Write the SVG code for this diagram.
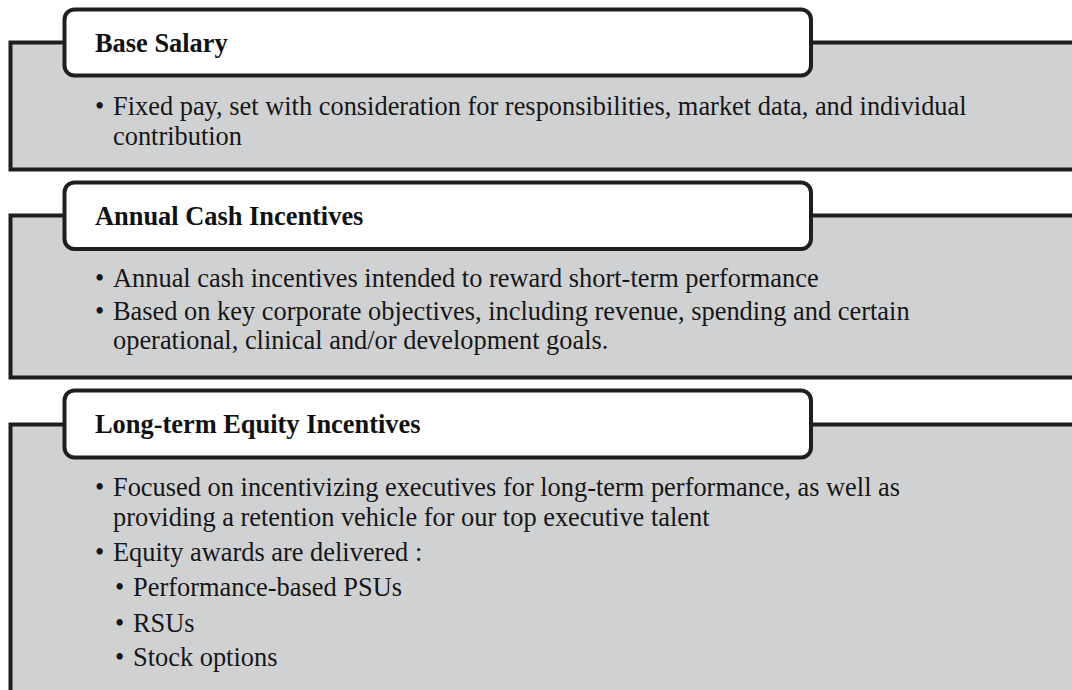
<svg xmlns="http://www.w3.org/2000/svg" width="1072" height="690" viewBox="0 0 1072 690">
  <style>
    .panel { fill: #d0d1d3; stroke: #1e1e1e; stroke-width: 4; }
    .tab { fill: #ffffff; stroke: #1e1e1e; stroke-width: 4; }
    .title { font-family: "Liberation Serif", "Times New Roman", serif; font-weight: bold; font-size: 26.4px; fill: #111111; }
    .body { font-family: "Liberation Serif", "Times New Roman", serif; font-size: 26.4px; fill: #161616; }
  </style>
  <rect x="0" y="0" width="1072" height="690" fill="#ffffff"/>

  <!-- Base salary -->
  <g id="base-salary">
    <rect class="panel" x="10.5" y="42.5" width="1080" height="127"/>
    <rect class="tab" x="64.5" y="9.5" width="746.5" height="66" rx="10" ry="10"/>
    <text class="title" x="95" y="52">Base Salary</text>
    <text class="body" x="95" y="115">•</text>
    <text class="body" x="113" y="115">Fixed pay, set with consideration for responsibilities, market data, and individual</text>
    <text class="body" x="113" y="145">contribution</text>
  </g>

  <!-- Annual cash incentives -->
  <g id="annual-cash-incentives">
    <rect class="panel" x="10.5" y="215.5" width="1080" height="162"/>
    <rect class="tab" x="64.5" y="182.5" width="746.5" height="66.5" rx="10" ry="10"/>
    <text class="title" x="95" y="225">Annual Cash Incentives</text>
    <text class="body" x="95" y="287">•</text>
    <text class="body" x="113" y="287">Annual cash incentives intended to reward short-term performance</text>
    <text class="body" x="95" y="319.5">•</text>
    <text class="body" x="113" y="319.5">Based on key corporate objectives, including revenue, spending and certain</text>
    <text class="body" x="113" y="349">operational, clinical and/or development goals.</text>
  </g>

  <!-- Long-term equity incentives -->
  <g id="long-term-equity-incentives">
    <rect class="panel" x="10.5" y="424.5" width="1080" height="290"/>
    <rect class="tab" x="64.5" y="390.5" width="746.5" height="67" rx="10" ry="10"/>
    <text class="title" x="95" y="433">Long-term Equity Incentives</text>
    <text class="body" x="95" y="496">•</text>
    <text class="body" x="113" y="496">Focused on incentivizing executives for long-term performance, as well as</text>
    <text class="body" x="113" y="526">providing a retention vehicle for our top executive talent</text>
    <text class="body" x="95" y="561">•</text>
    <text class="body" x="113" y="561">Equity awards are delivered :</text>
    <text class="body" x="115" y="596">•</text>
    <text class="body" x="133" y="596">Performance-based PSUs</text>
    <text class="body" x="115" y="631.5">•</text>
    <text class="body" x="133" y="631.5">RSUs</text>
    <text class="body" x="115" y="665.5">•</text>
    <text class="body" x="133" y="665.5">Stock options</text>
  </g>
</svg>
